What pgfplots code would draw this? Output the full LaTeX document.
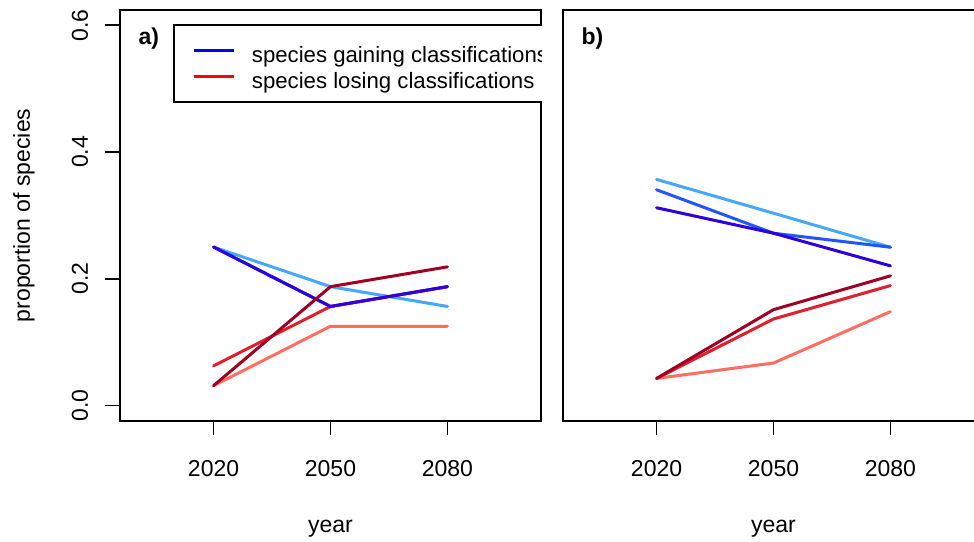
\documentclass[border=0pt]{standalone}
\usepackage{fontspec}
\setmainfont{Liberation Sans}
\usepackage{pgfplots}
\pgfplotsset{compat=1.18}

% scenario colours: light / medium / dark
\definecolor{gainA}{HTML}{45A8FA}
\definecolor{gainB}{HTML}{2255FF}
\definecolor{gainC}{HTML}{2E00E0}
\definecolor{lossA}{HTML}{FF6E60}
\definecolor{lossB}{HTML}{E0202C}
\definecolor{lossC}{HTML}{A00022}

\newcommand{\bigfont}{\fontsize{23}{27}\selectfont}
\newcommand{\legfont}{\fontsize{22.2}{26}\selectfont}

\pgfplotsset{
  panel/.style={
    scale only axis, width=421pt, height=410.7pt,
    xmin=1996, xmax=2104, ymin=-0.024, ymax=0.624,
    xtick={2020,2050,2080}, xticklabels={2020,2050,2080},
    tick align=outside, xtick pos=left, ytick pos=left,
    major tick length=14.5pt,
    every tick/.style={black, line width=1.8pt},
    axis line style={line width=1.8pt},
    tick label style={font=\bigfont},
    label style={font=\bigfont},
    xticklabel style={anchor=base, yshift=-41.5pt},
    xlabel={year},
    xlabel style={at={(axis description cs:0.5,0)}, anchor=base, yshift=-111.5pt},
    every axis plot/.append style={line width=3pt, line join=round, line cap=round},
  },
}

\begin{document}
\begin{tikzpicture}
\path[use as bounding box, clip] (-120pt,-120.3pt) rectangle (854pt,420.7pt);

% panel a
\begin{axis}[panel, name=pa, at={(0pt,0pt)}, anchor=south west,
  ytick={0,0.2,0.4,0.6}, yticklabels={0.0,0.2,0.4,0.6},
  yticklabel style={xshift=-17.5pt, rotate=90, anchor=base},
  ylabel={proportion of species},
  ylabel style={at={(axis description cs:-0.228,0.5)}, anchor=center},
  legend style={at={(axis description cs:0.1259,0.9659)}, anchor=north west,
    draw=black, line width=1.8pt, fill=white,
    inner xsep=19pt, inner ysep=10.7pt, row sep=-3.4pt, column sep=16pt,
    font=\legfont,
    nodes={inner sep=0pt, text height=27pt, text depth=2.5pt},
    cells={anchor=west}},
  legend cell align=left,
  legend image code/.code={\draw[#1, line cap=butt] (0pt,0pt) -- (40pt,0pt);},
]
\addlegendimage{color=blue, line width=3pt}
\addlegendentry{species gaining classifications}
\addlegendimage{color=red, line width=3pt}
\addlegendentry{species losing classifications}

\addplot[gainA] coordinates {(2020,0.25) (2050,0.1875) (2080,0.15625)};
\addplot[lossA] coordinates {(2020,0.03125) (2050,0.125) (2080,0.125)};
\addplot[gainB] coordinates {(2020,0.25) (2050,0.15625) (2080,0.1875)};
\addplot[lossB] coordinates {(2020,0.0625) (2050,0.15625) (2080,0.1875)};
\addplot[gainC] coordinates {(2020,0.25) (2050,0.15625) (2080,0.1875)};
\addplot[lossC] coordinates {(2020,0.03125) (2050,0.1875) (2080,0.21875)};

\node[anchor=base west, xshift=15pt, yshift=-35pt, font=\bfseries\bigfont]
  at (rel axis cs:0,1) {a)};
\end{axis}

% blank the area right of panel a, so the legend box ends at its frame
\fill[white] (422.4pt,-121pt) rectangle (855pt,421pt);

% panel b
\begin{axis}[panel, name=pb, at={(443pt,0pt)}, anchor=south west,
  ytick=\empty,
]
\addplot[gainA] coordinates {(2020,0.3567) (2050,0.3034) (2080,0.2497)};
\addplot[lossA] coordinates {(2020,0.0427) (2050,0.0670) (2080,0.1481)};
\addplot[gainB] coordinates {(2020,0.3404) (2050,0.2718) (2080,0.2497)};
\addplot[lossB] coordinates {(2020,0.0427) (2050,0.1365) (2080,0.1892)};
\addplot[gainC] coordinates {(2020,0.3120) (2050,0.2718) (2080,0.2203)};
\addplot[lossC] coordinates {(2020,0.0427) (2050,0.1512) (2080,0.2045)};

\node[anchor=base west, xshift=15pt, yshift=-35pt, font=\bfseries\bigfont]
  at (rel axis cs:0,1) {b)};
\end{axis}
\end{tikzpicture}
\end{document}
